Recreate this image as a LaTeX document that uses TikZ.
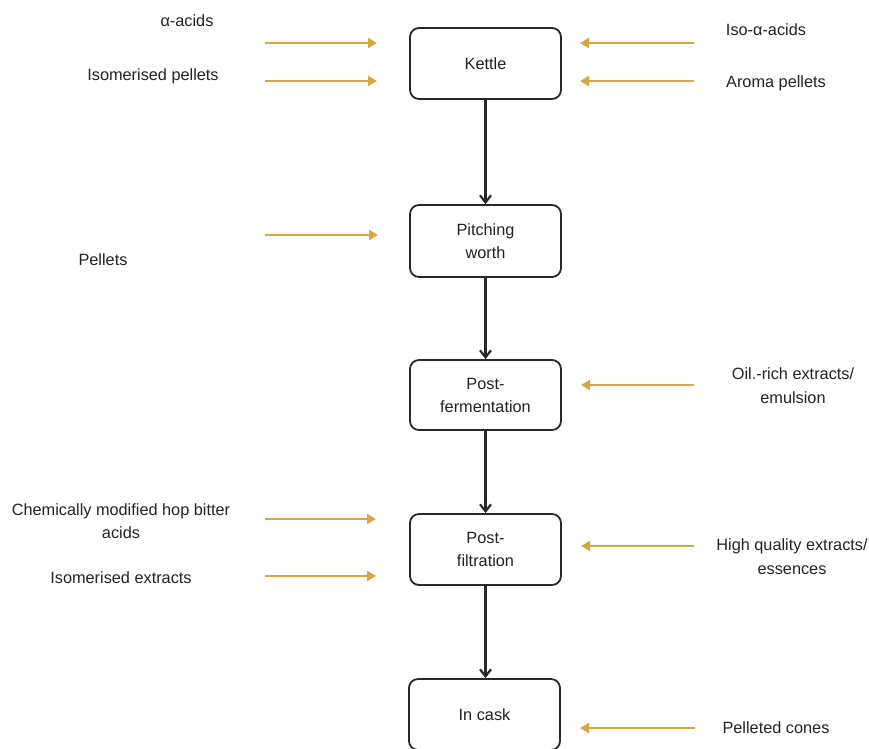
\documentclass[tikz,border=0pt]{standalone}
\usepackage{fontspec}
\setmainfont{Liberation Sans}
\usetikzlibrary{arrows.meta}
\definecolor{hop}{RGB}{214,166,64}
\definecolor{ink}{RGB}{40,40,40}
\definecolor{txt}{RGB}{35,35,35}
\begin{document}
\begin{tikzpicture}[x=1pt,y=-1pt,
  stage/.style={draw=ink,line width=1.8pt,rounded corners=9pt,fill=white,
    minimum width=151pt,align=center,font=\fontsize{16.3}{23}\selectfont,text=txt},
  lbl/.style={align=center,font=\fontsize{16.3}{23.5}\selectfont,text=txt},
  flow/.style={draw=ink,line width=2.5pt,-{Straight Barb[length=7pt,width=11pt,line width=2.2pt]}},
  feed/.style={draw=hop,line width=2.3pt,-{Triangle[length=9pt,width=10pt]}}]
\useasboundingbox (0,0) rectangle (869,748);
\clip (0,0) rectangle (869,748);
% stages
\node[stage,minimum height=71pt] (kettle) at (485.5,63.5) {Kettle};
\node[stage,minimum height=72pt] (pitch) at (485.5,241) {Pitching\\worth};
\node[stage,minimum height=70pt] (ferm) at (485.5,395) {Post-\\fermentation};
\node[stage,minimum height=71pt] (filt) at (485.5,549.5) {Post-\\filtration};
\node[stage,minimum height=71pt] (cask) at (484.5,714.5) {In cask};
\draw[flow] (kettle.south) -- (pitch.north);
\draw[flow] (pitch.south) -- (ferm.north);
\draw[flow] (ferm.south) -- (filt.north);
\draw[flow] (filt.south) -- (filt.south |- cask.north);
% feed start/end coordinates
\coordinate (a1) at (265,43); \coordinate (b1) at (377,43);
\coordinate (a2) at (265,81); \coordinate (b2) at (377,81);
\coordinate (a3) at (265,235); \coordinate (b3) at (378,235);
\coordinate (a4) at (265,519); \coordinate (b4) at (376,519);
\coordinate (a5) at (265,576); \coordinate (b5) at (376,576);
\coordinate (c1) at (694,43); \coordinate (d1) at (580,43);
\coordinate (c2) at (694,81); \coordinate (d2) at (580,81);
\coordinate (c3) at (694,385); \coordinate (d3) at (581,385);
\coordinate (c4) at (694,546); \coordinate (d4) at (581,546);
\coordinate (c5) at (695,728); \coordinate (d5) at (580,728);
\foreach \i in {1,...,5}{\draw[feed] (a\i) -- (b\i); \draw[feed] (c\i) -- (d\i);}
% left labels
\node[lbl] (l1) at (187,21) {α-acids};
\node[lbl] (l2) at (153,76) {Isomerised pellets};
\node[lbl] (l3) at (103,260) {Pellets};
\node[lbl] (l4) at (121,521) {Chemically modified hop bitter\\acids};
\node[lbl] (l5) at (121,578) {Isomerised extracts};
% right labels
\node[lbl] (r1) at (766,30) {Iso-α-acids};
\node[lbl] (r2) at (776,83) {Aroma pellets};
\node[lbl] (r3) at (793,385.5) {Oil.-rich extracts/\\emulsion};
\node[lbl] (r4) at (792,556.5) {High quality extracts/\\essences};
\node[lbl] (r5) at (776,728) {Pelleted cones};
\end{tikzpicture}
\end{document}
